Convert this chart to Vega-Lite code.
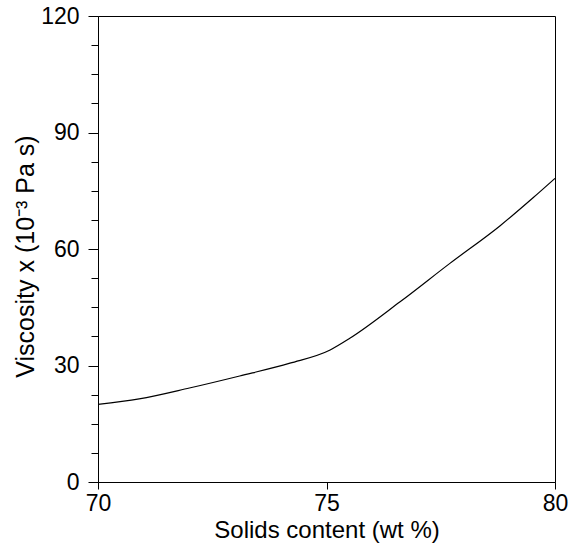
{
  "$schema": "https://vega.github.io/schema/vega-lite/v6.json",
  "autosize": "none",
  "padding": {"left": 98, "top": 16, "right": 20, "bottom": 65},
  "width": 457,
  "height": 466,
  "background": "white",
  "config": {
    "view": {"stroke": "black", "strokeWidth": 1},
    "font": "Liberation Sans",
    "axis": {
      "domainColor": "black",
      "tickColor": "black",
      "labelColor": "black",
      "titleColor": "black",
      "labelFont": "Liberation Sans",
      "titleFont": "Liberation Sans",
      "labelFontSize": 23,
      "titleFontSize": 24,
      "titleFontWeight": "normal",
      "grid": false
    }
  },
  "data": {
    "values": [
      {"solids": 70.0, "viscosity": 20.0},
      {"solids": 70.9, "viscosity": 21.4},
      {"solids": 72.0, "viscosity": 24.2},
      {"solids": 73.1, "viscosity": 27.3},
      {"solids": 74.2, "viscosity": 30.6},
      {"solids": 75.08, "viscosity": 34.0},
      {"solids": 75.51, "viscosity": 37.0},
      {"solids": 76.61, "viscosity": 46.4},
      {"solids": 77.7, "viscosity": 56.3},
      {"solids": 78.8, "viscosity": 66.0},
      {"solids": 79.52, "viscosity": 73.2},
      {"solids": 80.0, "viscosity": 78.2}
    ]
  },
  "mark": {"type": "line", "color": "black", "strokeWidth": 1.2, "interpolate": "monotone"},
  "encoding": {
    "x": {
      "field": "solids",
      "type": "quantitative",
      "scale": {"domain": [70, 80], "nice": false, "zero": false},
      "axis": {
        "title": "Solids content (wt %)",
        "values": [70, 75, 80],
        "tickSize": 7,
        "labelPadding": 3,
        "titlePadding": 3,
        "labelFlush": false
      }
    },
    "y": {
      "field": "viscosity",
      "type": "quantitative",
      "scale": {"domain": [0, 120], "nice": false},
      "axis": {
        "title": "Viscosity x (10⁻³ Pa s)",
        "titleFontSize": 25,
        "titleY": 240,
        "values": [0, 7.5, 15, 22.5, 30, 37.5, 45, 52.5, 60, 67.5, 75, 82.5, 90, 97.5, 105, 112.5, 120],
        "labelExpr": "datum.value % 30 === 0 ? datum.label : ''",
        "tickSize": {"condition": {"test": "datum.value % 30 === 0", "value": 10}, "value": 7},
        "labelPadding": 9,
        "titlePadding": 2,
        "labelFlush": false
      }
    }
  }
}
